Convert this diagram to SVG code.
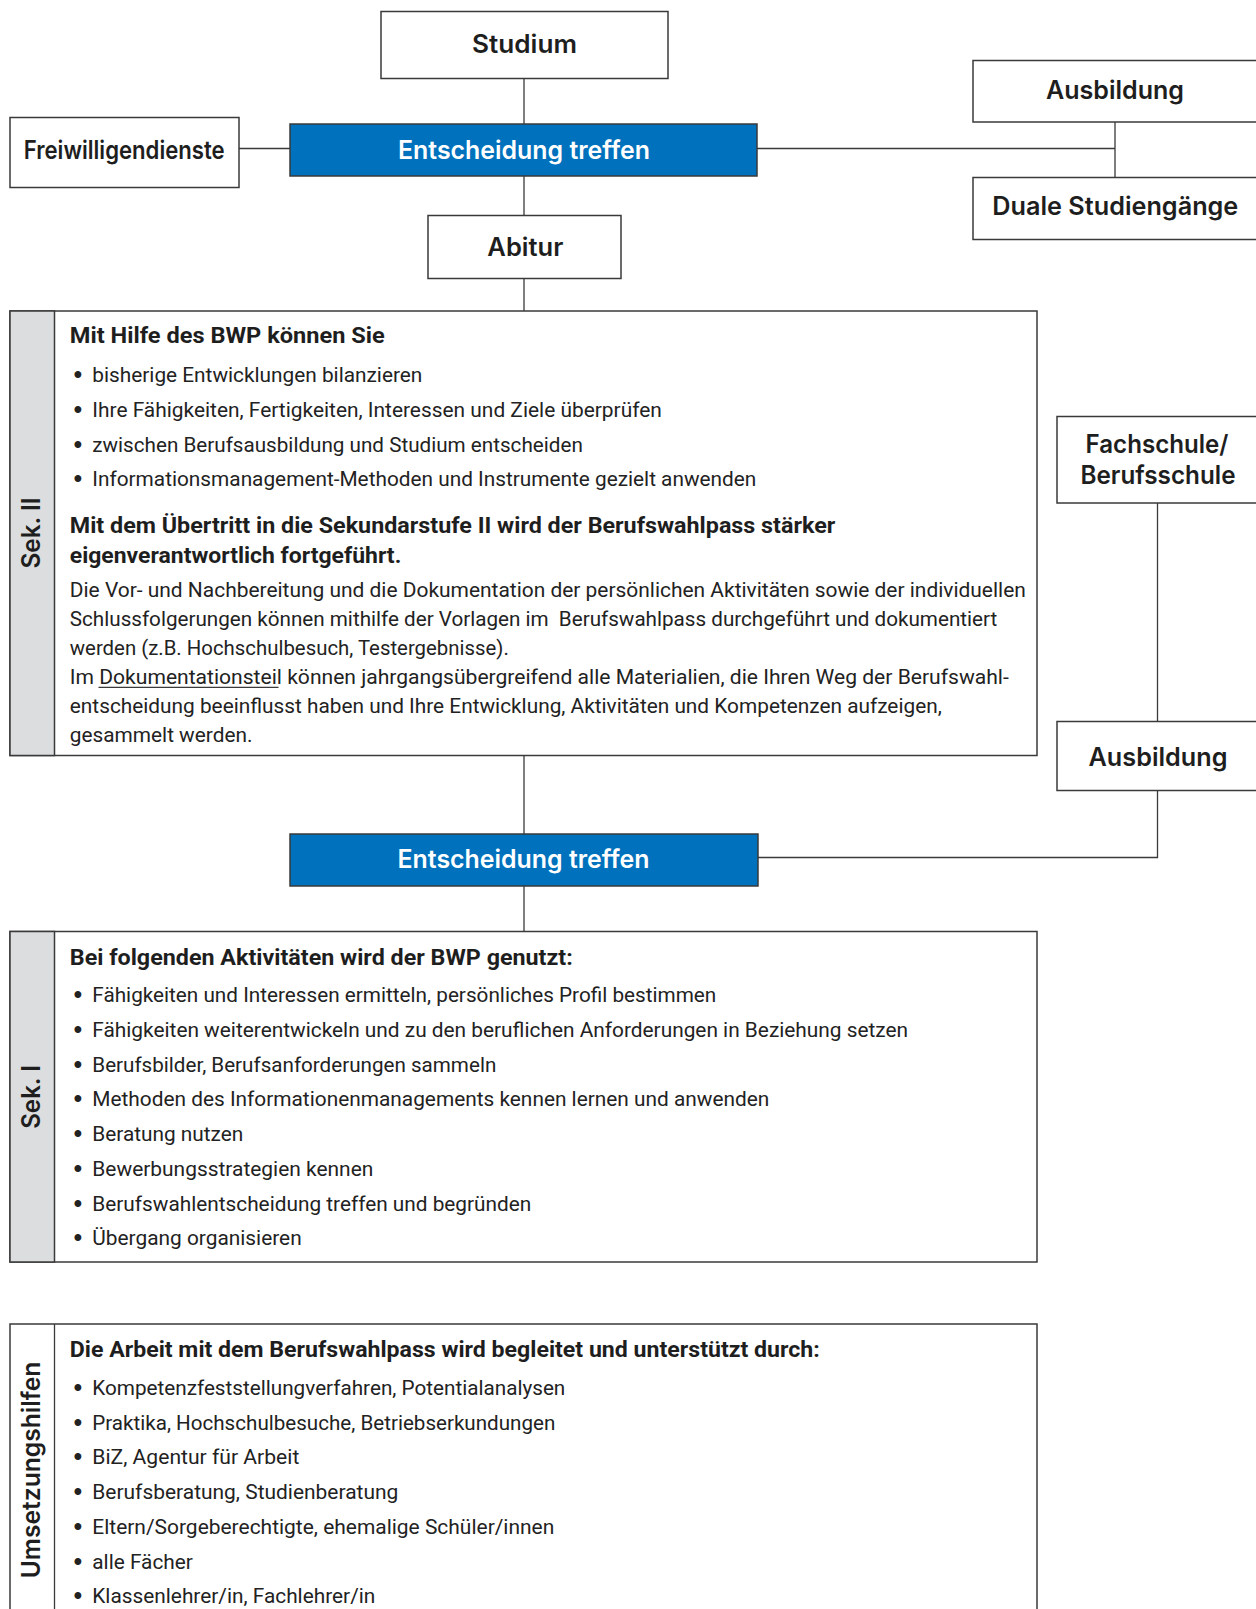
<svg xmlns="http://www.w3.org/2000/svg" width="1256" height="1609" viewBox="0 0 1256 1609">
<style>
.box{fill:#fff;stroke:#3a3a3a;stroke-width:1.5}
.blue{fill:#0071BC;stroke:#3a3a3a;stroke-width:1.5}
.gray{fill:#DCDDDF;stroke:#3a3a3a;stroke-width:1.5}
.con{fill:none;stroke:#3a3a3a;stroke-width:1.3}
.node{font-family:Inter,'Open Sans','Liberation Sans',sans-serif;font-weight:600;font-size:25px;fill:#1e1e1e;text-anchor:middle}
.wt{fill:#fff}
.side{font-family:Inter,'Open Sans','Liberation Sans',sans-serif;font-weight:600;font-size:25px;fill:#1e1e1e;text-anchor:middle}
.t{font-family:Roboto,'Liberation Sans',sans-serif;font-weight:400;font-size:21px;fill:#222}
.h{font-family:Roboto,'Liberation Sans',sans-serif;font-weight:700;font-size:21.5px;fill:#1e1e1e}
.bu{font-family:'Liberation Sans',Arial,sans-serif;font-size:25px;fill:#222;text-anchor:middle}
</style>
<rect width="1256" height="1609" fill="#fff"/>

<g id="connectors">
<path class="con" d="M524 78.5V124"/>
<path class="con" d="M239 148.5H290"/>
<path class="con" d="M757 148.5H1115"/>
<path class="con" d="M1115 122V177.5"/>
<path class="con" d="M524 176V215.5"/>
<path class="con" d="M524 278.5V311"/>
<path class="con" d="M524 755.5V834"/>
<path class="con" d="M524 886V931.5"/>
<path class="con" d="M1157.5 503V721.5"/>
<path class="con" d="M1157.5 790.5V857.5H758"/>
</g>

<g id="studium">
<rect class="box" x="381" y="11.5" width="287" height="67"/>
<text class="node" x="524.5" y="53" textLength="105" lengthAdjust="spacingAndGlyphs">Studium</text>
</g>
<g id="freiwilligendienste">
<rect class="box" x="10" y="117.5" width="229" height="70"/>
<text class="node" x="124.2" y="158.5" textLength="201" lengthAdjust="spacingAndGlyphs">Freiwilligendienste</text>
</g>
<g id="entscheidung1">
<rect class="blue" x="290" y="124" width="467" height="52"/>
<text class="node wt" x="524" y="158.5" textLength="252" lengthAdjust="spacingAndGlyphs">Entscheidung treffen</text>
</g>
<g id="ausbildung1">
<rect class="box" x="973" y="60.5" width="290" height="61.5"/>
<text class="node" x="1115" y="98.5" textLength="138" lengthAdjust="spacingAndGlyphs">Ausbildung</text>
</g>
<g id="duale">
<rect class="box" x="973" y="177.5" width="290" height="62"/>
<text class="node" x="1115.3" y="214.5" textLength="246" lengthAdjust="spacingAndGlyphs">Duale Studiengänge</text>
</g>
<g id="abitur">
<rect class="box" x="428" y="215.5" width="193" height="63"/>
<text class="node" x="525.3" y="255.5" textLength="76" lengthAdjust="spacingAndGlyphs">Abitur</text>
</g>

<g id="sek2">
<rect class="box" x="10" y="311" width="1027" height="444.5"/>
<rect class="gray" x="10" y="311" width="44.5" height="444.5"/>
<text class="side" transform="translate(40 533) rotate(-90)" textLength="71" lengthAdjust="spacingAndGlyphs">Sek. II</text>
<text class="h" x="69.8" y="342.7" textLength="315" lengthAdjust="spacingAndGlyphs">Mit Hilfe des BWP können Sie</text>
<text class="bu" x="78" y="382.7">•</text>
<text class="t" x="92.3" y="381.7" textLength="330" lengthAdjust="spacingAndGlyphs">bisherige Entwicklungen bilanzieren</text>
<text class="bu" x="78" y="417.6">•</text>
<text class="t" x="92.3" y="416.6" textLength="569.5" lengthAdjust="spacingAndGlyphs">Ihre Fähigkeiten, Fertigkeiten, Interessen und Ziele überprüfen</text>
<text class="bu" x="78" y="452.5">•</text>
<text class="t" x="92.3" y="451.5" textLength="490.5" lengthAdjust="spacingAndGlyphs">zwischen Berufsausbildung und Studium entscheiden</text>
<text class="bu" x="78" y="487.4">•</text>
<text class="t" x="92.3" y="486.4" textLength="664" lengthAdjust="spacingAndGlyphs">Informationsmanagement-Methoden und Instrumente gezielt anwenden</text>
<text class="h" x="69.8" y="532.5" textLength="765.5" lengthAdjust="spacingAndGlyphs">Mit dem Übertritt in die Sekundarstufe II wird der Berufswahlpass stärker</text>
<text class="h" x="69.8" y="563" textLength="331.5" lengthAdjust="spacingAndGlyphs">eigenverantwortlich fortgeführt.</text>
<text class="t" x="69.8" y="597" textLength="956" lengthAdjust="spacingAndGlyphs">Die Vor- und Nachbereitung und die Dokumentation der persönlichen Aktivitäten sowie der individuellen</text>
<text class="t" x="69.8" y="625.8" textLength="927.5" lengthAdjust="spacingAndGlyphs" xml:space="preserve">Schlussfolgerungen können mithilfe der Vorlagen im  Berufswahlpass durchgeführt und dokumentiert</text>
<text class="t" x="69.8" y="654.6" textLength="439" lengthAdjust="spacingAndGlyphs">werden (z.B. Hochschulbesuch, Testergebnisse).</text>
<text class="t" x="69.8" y="684" textLength="939" lengthAdjust="spacingAndGlyphs">Im Dokumentationsteil können jahrgangsübergreifend alle Materialien, die Ihren Weg der Berufswahl-</text>
<path class="con" d="M98.5 687.3H278.5" stroke-width="1.2"/>
<text class="t" x="69.8" y="712.8" textLength="872" lengthAdjust="spacingAndGlyphs">entscheidung beeinflusst haben und Ihre Entwicklung, Aktivitäten und Kompetenzen aufzeigen,</text>
<text class="t" x="69.8" y="741.6" textLength="182.6" lengthAdjust="spacingAndGlyphs">gesammelt werden.</text>
</g>

<g id="fachschule">
<rect class="box" x="1057" y="416.5" width="210" height="86.5"/>
<text class="node" x="1157" y="452.5" textLength="143" lengthAdjust="spacingAndGlyphs">Fachschule/</text>
<text class="node" x="1158" y="484" textLength="155" lengthAdjust="spacingAndGlyphs">Berufsschule</text>
</g>
<g id="ausbildung2">
<rect class="box" x="1057" y="721.5" width="210" height="69"/>
<text class="node" x="1158" y="765.5" textLength="139" lengthAdjust="spacingAndGlyphs">Ausbildung</text>
</g>
<g id="entscheidung2">
<rect class="blue" x="290" y="834" width="468" height="52"/>
<text class="node wt" x="523.5" y="867.5" textLength="252" lengthAdjust="spacingAndGlyphs">Entscheidung treffen</text>
</g>

<g id="sek1">
<rect class="box" x="10" y="931.5" width="1027" height="330.5"/>
<rect class="gray" x="10" y="931.5" width="44.5" height="330.5"/>
<text class="side" transform="translate(40 1097) rotate(-90)" textLength="63.7" lengthAdjust="spacingAndGlyphs">Sek. I</text>
<text class="h" x="69.8" y="964.5" textLength="503" lengthAdjust="spacingAndGlyphs">Bei folgenden Aktivitäten wird der BWP genutzt:</text>
<text class="bu" x="78" y="1003">•</text>
<text class="t" x="92.3" y="1002" textLength="624" lengthAdjust="spacingAndGlyphs">Fähigkeiten und Interessen ermitteln, persönliches Profil bestimmen</text>
<text class="bu" x="78" y="1037.75">•</text>
<text class="t" x="92.3" y="1036.75" textLength="815.8" lengthAdjust="spacingAndGlyphs">Fähigkeiten weiterentwickeln und zu den beruflichen Anforderungen in Beziehung setzen</text>
<text class="bu" x="78" y="1072.5">•</text>
<text class="t" x="92.3" y="1071.5" textLength="404" lengthAdjust="spacingAndGlyphs">Berufsbilder, Berufsanforderungen sammeln</text>
<text class="bu" x="78" y="1107.25">•</text>
<text class="t" x="92.3" y="1106.25" textLength="677" lengthAdjust="spacingAndGlyphs">Methoden des Informationenmanagements kennen lernen und anwenden</text>
<text class="bu" x="78" y="1142">•</text>
<text class="t" x="92.3" y="1141" textLength="151" lengthAdjust="spacingAndGlyphs">Beratung nutzen</text>
<text class="bu" x="78" y="1176.75">•</text>
<text class="t" x="92.3" y="1175.75" textLength="281" lengthAdjust="spacingAndGlyphs">Bewerbungsstrategien kennen</text>
<text class="bu" x="78" y="1211.5">•</text>
<text class="t" x="92.3" y="1210.5" textLength="439" lengthAdjust="spacingAndGlyphs">Berufswahlentscheidung treffen und begründen</text>
<text class="bu" x="78" y="1246.25">•</text>
<text class="t" x="92.3" y="1245.25" textLength="209.4" lengthAdjust="spacingAndGlyphs">Übergang organisieren</text>
</g>

<g id="umsetzungshilfen">
<rect class="box" x="10" y="1324" width="1027" height="300"/>
<path class="con" d="M54.5 1324V1609" stroke-width="1.5"/>
<text class="side" transform="translate(40 1470) rotate(-90)" textLength="216.6" lengthAdjust="spacingAndGlyphs">Umsetzungshilfen</text>
<text class="h" x="69.8" y="1357" textLength="750" lengthAdjust="spacingAndGlyphs">Die Arbeit mit dem Berufswahlpass wird begleitet und unterstützt durch:</text>
<text class="bu" x="78" y="1396">•</text>
<text class="t" x="92.3" y="1395" textLength="473" lengthAdjust="spacingAndGlyphs">Kompetenzfeststellungverfahren, Potentialanalysen</text>
<text class="bu" x="78" y="1430.7">•</text>
<text class="t" x="92.3" y="1429.7" textLength="463" lengthAdjust="spacingAndGlyphs">Praktika, Hochschulbesuche, Betriebserkundungen</text>
<text class="bu" x="78" y="1465.4">•</text>
<text class="t" x="92.3" y="1464.4" textLength="207" lengthAdjust="spacingAndGlyphs">BiZ, Agentur für Arbeit</text>
<text class="bu" x="78" y="1500.1">•</text>
<text class="t" x="92.3" y="1499.1" textLength="306" lengthAdjust="spacingAndGlyphs">Berufsberatung, Studienberatung</text>
<text class="bu" x="78" y="1534.8">•</text>
<text class="t" x="92.3" y="1533.8" textLength="462" lengthAdjust="spacingAndGlyphs">Eltern/Sorgeberechtigte, ehemalige Schüler/innen</text>
<text class="bu" x="78" y="1569.5">•</text>
<text class="t" x="92.3" y="1568.5" textLength="100.6" lengthAdjust="spacingAndGlyphs">alle Fächer</text>
<text class="bu" x="78" y="1604.2">•</text>
<text class="t" x="92.3" y="1603.2" textLength="283" lengthAdjust="spacingAndGlyphs">Klassenlehrer/in, Fachlehrer/in</text>
</g>
</svg>
